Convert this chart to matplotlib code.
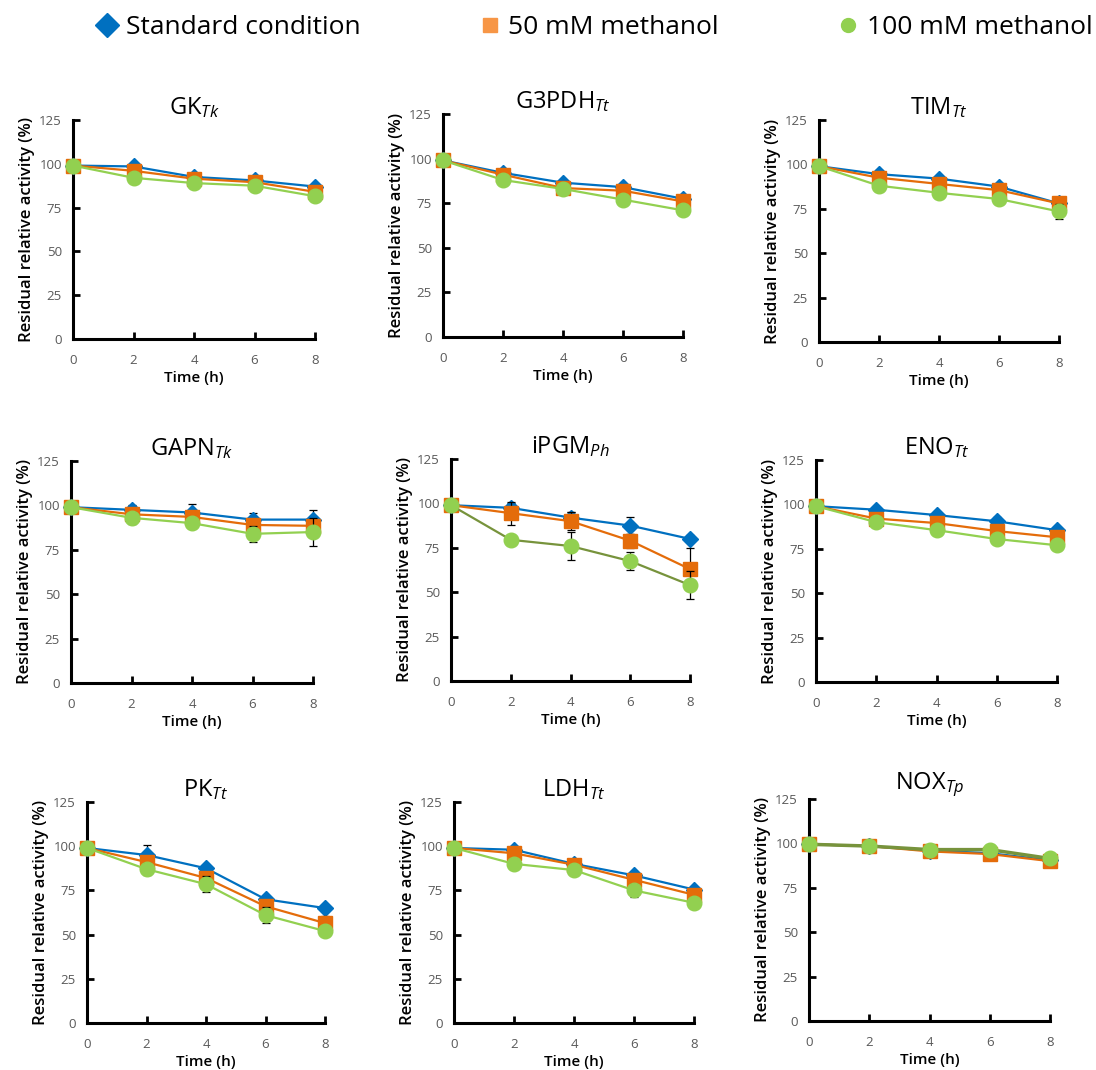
import matplotlib
matplotlib.use("Agg")
import matplotlib.pyplot as plt
from matplotlib.lines import Line2D

plt.rcParams['font.family'] = ['Open Sans', 'DejaVu Sans']
plt.rcParams['mathtext.fontset'] = 'custom'
plt.rcParams['mathtext.it'] = 'Open Sans:italic'
plt.rcParams['mathtext.rm'] = 'Open Sans'

time_h = [0, 2, 4, 6, 8]
series_names = ["Standard condition", "50 mM methanol", "100 mM methanol"]

enzymes = ["GK", "G3PDH", "TIM", "GAPN", "iPGM", "ENO", "PK", "LDH", "NOX"]
subscripts = ["Tk", "Tt", "Tt", "Tk", "Ph", "Tt", "Tt", "Tt", "Tp"]

standard = {
    "GK":    [99, 98.5, 92.5, 90.5, 87],
    "G3PDH": [99, 92, 86.5, 84, 77.5],
    "TIM":   [99, 94.5, 92, 87.5, 78],
    "GAPN":  [99, 97.5, 96, 92, 92],
    "iPGM":  [99, 97.5, 92, 87.5, 80],
    "ENO":   [99, 97, 94, 90.5, 85.5],
    "PK":    [99, 95, 87.5, 70, 65],
    "LDH":   [99, 98, 90, 83.5, 75.5],
    "NOX":   [99.5, 98.5, 96, 94.5, 90.5],
}
methanol50 = {
    "GK":    [99, 96, 91.5, 89.5, 84],
    "G3PDH": [99, 91, 83.5, 82, 76],
    "TIM":   [99, 92.5, 89, 85.5, 78],
    "GAPN":  [99, 95, 93.5, 89, 88.5],
    "iPGM":  [99, 94.5, 90, 79, 63],
    "ENO":   [99, 92, 89.5, 85, 81.5],
    "PK":    [99, 91, 82, 66, 56.5],
    "LDH":   [99, 96, 89.5, 81, 72.5],
    "NOX":   [99.5, 98.5, 95.5, 94, 90],
}
methanol100 = {
    "GK":    [99, 92, 89, 87.5, 81.5],
    "G3PDH": [99, 88, 83, 77, 71],
    "TIM":   [99, 88, 84, 80.5, 73.5],
    "GAPN":  [99, 93, 90, 84, 85],
    "iPGM":  [99, 79.5, 76, 67.5, 54],
    "ENO":   [99, 90, 85.5, 80.5, 77],
    "PK":    [99, 87, 78.5, 61, 52],
    "LDH":   [99, 90, 86.5, 75, 68],
    "NOX":   [99.5, 98.5, 96.5, 96.5, 91.5],
}
err_standard = {
    "GK": [0, 1, 1, 1, 1], "G3PDH": [0, 1, 1, 1, 1], "TIM": [0, 2.5, 1, 1.5, 0.5],
    "GAPN": [0, 3, 5, 3.5, 5.5], "iPGM": [0, 3, 3, 5, 2], "ENO": [0, 1, 1, 2.5, 1],
    "PK": [0, 5.5, 1.5, 1.5, 1], "LDH": [0, 1, 1, 1, 1], "NOX": [0, 1, 1, 1, 3.5],
}
err_50 = {
    "GK": [0, 1, 1, 1, 1], "G3PDH": [0, 1, 1, 1, 1], "TIM": [0, 1, 1, 1, 1],
    "GAPN": [0, 1, 1, 1, 1], "iPGM": [0, 6.5, 5, 4, 12], "ENO": [0, 1, 1, 1, 1],
    "PK": [0, 1, 2, 2, 4], "LDH": [0, 1, 1, 1, 1], "NOX": [0, 1, 1, 1, 1],
}
err_100 = {
    "GK": [0, 3, 1, 1, 1], "G3PDH": [0, 1, 1, 1, 1], "TIM": [0, 1, 1, 1, 4],
    "GAPN": [0, 3.5, 3, 4.5, 8], "iPGM": [0, 1, 8, 5, 8], "ENO": [0, 1, 1, 1, 1],
    "PK": [0, 3.5, 4.5, 4.5, 1], "LDH": [0, 1, 1, 3.8, 1], "NOX": [0, 1, 1, 1, 1],
}

# layout: axes boxes in pixels (left, right, top, bottom)
W, H = 1096, 1070
boxes = [
    (73, 315, 120, 339), (443, 683, 114, 337), (819, 1059, 120, 342),
    (71, 313, 461, 683), (451, 690, 459, 681), (816, 1057, 460, 682),
    (87, 325, 802, 1023), (454, 694, 802, 1023), (809, 1050, 799, 1021),
]

blue = "#0070C0"
orange_line = "#E46C0A"
orange_leg = "#F79646"
green = "#92D050"
olive = "#77933C"

fig = plt.figure(figsize=(W / 100, H / 100), dpi=100)

for name, sub, (l, r, t, b) in zip(enzymes, subscripts, boxes):
    ax = fig.add_axes([l / W, 1 - b / H, (r - l) / W, (b - t) / H])
    g_line = olive if name in ("iPGM", "NOX") else green
    g_lw = 2.5 if name == "NOX" else 1.6
    specs = [
        (standard[name], err_standard[name], blue, blue, "D", 8, 1.6),
        (methanol50[name], err_50[name], orange_line, orange_line, "s", 10, 1.6),
        (methanol100[name], err_100[name], g_line, green, "o", 10.5, g_lw),
    ]
    for z, (vals, errs, lc, mc, mk, ms, lw) in enumerate(specs):
        ax.errorbar(time_h, vals, yerr=errs, fmt="none", ecolor="black",
                    elinewidth=0.9, capsize=3, capthick=0.9, zorder=2 + 2 * z,
                    clip_on=False)
        ax.plot(time_h, vals, color=lc, lw=lw, marker=mk, ms=ms,
                mfc=mc, mec=mc, zorder=3 + 2 * z, clip_on=False)
    ax.set_xlim(0, 8)
    ax.set_ylim(0, 125)
    ax.set_xticks(time_h)
    ax.set_yticks([0, 25, 50, 75, 100, 125])
    for s in ("top", "right"):
        ax.spines[s].set_visible(False)
    for s in ("left", "bottom"):
        ax.spines[s].set_linewidth(2.2)
        ax.spines[s].set_color("black")
    ax.tick_params(axis="both", direction="in", length=5, width=2,
                   colors="black", labelcolor="#595959", labelsize=9.5)
    ax.tick_params(axis="x", pad=11)
    ax.tick_params(axis="y", pad=8)
    ax.set_ylabel("Residual relative activity (%)", fontsize=12,
                  fontweight="semibold", labelpad=3)
    ax.set_xlabel("Time (h)", fontsize=11, fontweight="semibold", labelpad=3)
    ax.set_title(name + r"$_{\mathit{" + sub + "}}$", fontsize=17, pad=2)

handles = [
    Line2D([], [], ls="none", marker="D", color=blue, ms=12),
    Line2D([], [], ls="none", marker="s", color=orange_leg, ms=10),
    Line2D([], [], ls="none", marker="o", color=green, ms=10),
]
fig.legend(handles, series_names, loc="upper center", bbox_to_anchor=(0.54, 1.008),
           ncol=3, frameon=False, fontsize=19, handletextpad=0.1,
           columnspacing=4.3, handlelength=1.2)

fig.savefig("out.png", dpi=100, facecolor="white")
